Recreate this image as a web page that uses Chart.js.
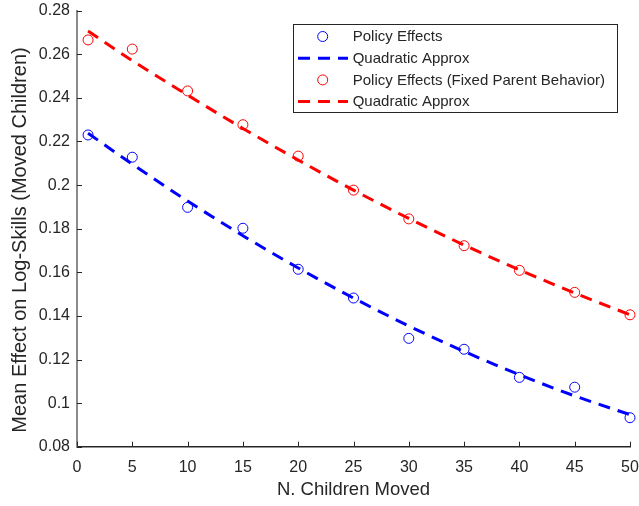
<!DOCTYPE html>
<html>
<head>
<meta charset="utf-8">
<script src="https://cdn.jsdelivr.net/npm/chart.js@4.4.1/dist/chart.umd.min.js"></script>
<style>
  html, body { margin: 0; padding: 0; background: #fff; }
  canvas { display: block; }
</style>
</head>
<body>
<canvas id="myChart" width="639" height="506"></canvas>
<script>
// Datos
const childrenMoved = [1, 5, 10, 15, 20, 25, 30, 35, 40, 45, 50];
const policyEffects = [0.2230, 0.2128, 0.1898, 0.1802, 0.1614, 0.1482, 0.1297, 0.1247, 0.1118, 0.1073, 0.0933];
const quadApprox = [0.2238, 0.2096, 0.1927, 0.1768, 0.1620, 0.1482, 0.1354, 0.1237, 0.1130, 0.1033, 0.0947];
const fixedParentEffects = [0.2666, 0.2624, 0.2432, 0.2277, 0.2133, 0.1977, 0.1845, 0.1722, 0.1609, 0.1508, 0.1405];
const fixedQuadApprox = [0.2707, 0.2571, 0.2413, 0.2260, 0.2115, 0.1977, 0.1847, 0.1725, 0.1611, 0.1505, 0.1405];

const xTicks = [0, 5, 10, 15, 20, 25, 30, 35, 40, 45, 50];
const yTicks = [0.08, 0.1, 0.12, 0.14, 0.16, 0.18, 0.2, 0.22, 0.24, 0.26, 0.28];

const seriesLabels = ['Policy Effects', 'Quadratic Approx', 'Policy Effects (Fixed Parent Behavior)', 'Quadratic Approx'];

const axisColor = '#262626';
const fontFamily = '"Liberation Sans", Arial, Helvetica, sans-serif';

const toPoints = (values) => childrenMoved.map((x, i) => ({ x, y: values[i] }));

// Marcas de eje hacia adentro (estilo MATLAB)
const innerTicks = {
    id: 'innerTicks',
    afterDatasetsDraw(chart) {
        const { ctx, chartArea, scales } = chart;
        ctx.save();
        ctx.lineWidth = 1;
        ctx.strokeStyle = axisColor;
        xTicks.forEach(v => {
            const px = Math.round(scales.x.getPixelForValue(v)) + 0.5;
            ctx.beginPath();
            ctx.moveTo(px, chartArea.bottom);
            ctx.lineTo(px, chartArea.bottom - 5);
            ctx.stroke();
        });
        yTicks.forEach(v => {
            const py = Math.round(scales.y.getPixelForValue(v)) + 0.5;
            ctx.beginPath();
            ctx.moveTo(chartArea.left, py);
            ctx.lineTo(chartArea.left + 5, py);
            ctx.stroke();
        });
        ctx.restore();
    }
};

// Titulo del eje Y
const yTitle = {
    id: 'yTitle',
    afterDraw(chart) {
        const { ctx } = chart;
        ctx.save();
        ctx.translate(20, 240);
        ctx.rotate(-Math.PI / 2);
        ctx.font = '20px ' + fontFamily;
        ctx.fillStyle = axisColor;
        ctx.textAlign = 'center';
        ctx.textBaseline = 'middle';
        ctx.fillText('Mean Effect on Log-Skills (Moved Children)', 0, 0);
        ctx.restore();
    }
};

// Leyenda con recuadro
const legendBox = {
    id: 'legendBox',
    afterDraw(chart) {
        const { ctx } = chart;
        const bx = 293, by = 24, bw = 324, bh = 88;
        ctx.save();
        ctx.fillStyle = '#fff';
        ctx.fillRect(bx, by, bw, bh);
        ctx.strokeStyle = axisColor;
        ctx.lineWidth = 1;
        ctx.strokeRect(bx + 0.5, by + 0.5, bw, bh);
        ctx.font = '15px ' + fontFamily;
        ctx.textBaseline = 'middle';
        chart.data.datasets.forEach((ds, i) => {
            const y = 36.5 + i * 21.7;
            if (ds.showLine === false) {
                ctx.beginPath();
                ctx.arc(322.7, y, 5, 0, Math.PI * 2);
                ctx.lineWidth = 1;
                ctx.strokeStyle = ds.borderColor;
                ctx.setLineDash([]);
                ctx.stroke();
            } else {
                ctx.beginPath();
                ctx.moveTo(298, y);
                ctx.lineTo(348, y);
                ctx.lineWidth = ds.borderWidth;
                ctx.strokeStyle = ds.borderColor;
                ctx.setLineDash(ds.borderDash);
                ctx.stroke();
                ctx.setLineDash([]);
            }
            ctx.fillStyle = axisColor;
            ctx.fillText(ds.label, 352.7, y + 0.5);
        });
        ctx.restore();
    }
};

const markerSet = (label, values, color, order) => ({
    label,
    data: toPoints(values),
    showLine: false,
    borderColor: color,
    backgroundColor: 'rgba(0,0,0,0)',
    pointStyle: 'circle',
    pointRadius: 5,
    pointBorderWidth: 1,
    clip: false,
    order
});

const dashedSet = (label, values, color, order) => ({
    label,
    data: toPoints(values),
    showLine: true,
    borderColor: color,
    backgroundColor: color,
    borderWidth: 3,
    borderDash: [12, 8],
    pointRadius: 0,
    cubicInterpolationMode: 'monotone',
    order
});

const ctx = document.getElementById('myChart');

const myChart = new Chart(ctx, {
    type: 'scatter',
    data: {
        datasets: [
            markerSet(seriesLabels[0], policyEffects, '#0000ff', 4),
            dashedSet(seriesLabels[1], quadApprox, '#0000ff', 3),
            markerSet(seriesLabels[2], fixedParentEffects, '#ff0000', 2),
            dashedSet(seriesLabels[3], fixedQuadApprox, '#ff0000', 1)
        ]
    },
    options: {
        responsive: false,
        animation: false,
        devicePixelRatio: 1,
        layout: { padding: { top: 10.7, right: 9, left: 0, bottom: 0 } },
        plugins: {
            legend: { display: false },
            tooltip: { enabled: false }
        },
        scales: {
            x: {
                type: 'linear',
                min: 0,
                max: 50,
                afterBuildTicks: (scale) => { scale.ticks = xTicks.map(v => ({ value: v })); },
                afterFit: (scale) => {
                    scale.height = 59.3;
                    scale.paddingLeft = 0;
                    scale.paddingRight = 0;
                },
                grid: { display: false, drawTicks: false },
                border: { display: true, color: axisColor, width: 1.5 },
                ticks: {
                    color: axisColor,
                    padding: 11,
                    maxRotation: 0,
                    font: { family: fontFamily, size: 16 }
                },
                title: {
                    display: true,
                    text: 'N. Children Moved',
                    color: axisColor,
                    padding: { top: 0, bottom: 5 },
                    font: { family: fontFamily, size: 18.5 }
                }
            },
            y: {
                type: 'linear',
                min: 0.08,
                max: 0.28,
                afterBuildTicks: (scale) => { scale.ticks = yTicks.map(v => ({ value: v })); },
                afterFit: (scale) => {
                    scale.width = 77;
                    scale.paddingTop = 0;
                    scale.paddingBottom = 0;
                },
                grid: { display: false, drawTicks: false },
                border: { display: true, color: '#8a8a8a', width: 2 },
                ticks: {
                    color: axisColor,
                    padding: 7,
                    font: { family: fontFamily, size: 16 },
                    callback: (value) => String(Number(value.toFixed(2)))
                }
            }
        }
    },
    plugins: [innerTicks, yTitle, legendBox]
});
</script>
</body>
</html>
